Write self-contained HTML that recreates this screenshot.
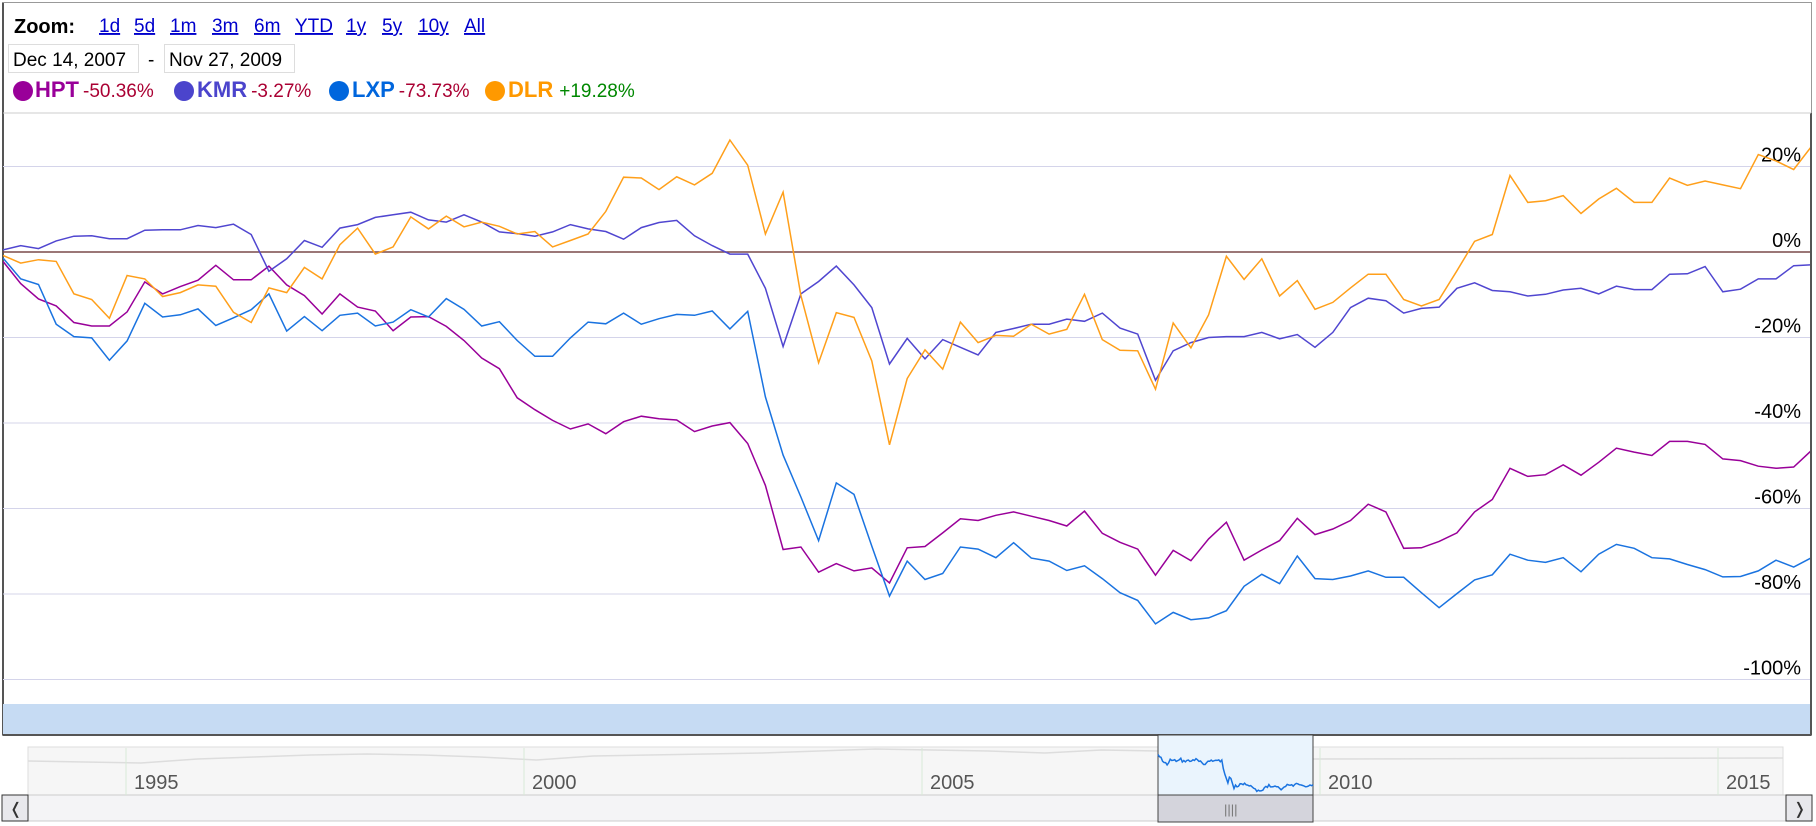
<!DOCTYPE html>
<html><head><meta charset="utf-8"><style>
body{margin:0;width:1816px;height:826px;background:#fff;overflow:hidden;font-family:"Liberation Sans",sans-serif}
svg{position:absolute;left:0;top:0}
</style></head><body>
<svg id="c" width="1816" height="826" xmlns="http://www.w3.org/2000/svg">
<rect x="2.5" y="2.5" width="1809" height="733" fill="#fff" stroke="#999"/>
<line x1="3" y1="3" x2="3" y2="735" stroke="#555" stroke-width="2"/>
<line x1="1811" y1="113" x2="1811" y2="735" stroke="#555" stroke-width="2"/>
<line x1="3" y1="113" x2="1811" y2="113" stroke="#ccc"/>
<text x="14" y="33" font-size="20" font-weight="bold" fill="#000">Zoom:</text>
<g font-size="19" fill="#0000cc" text-decoration="underline">
<text x="99" y="32">1d</text>
<text x="134" y="32">5d</text>
<text x="170" y="32">1m</text>
<text x="212" y="32">3m</text>
<text x="254" y="32">6m</text>
<text x="295" y="32">YTD</text>
<text x="346" y="32">1y</text>
<text x="382" y="32">5y</text>
<text x="418" y="32">10y</text>
<text x="464" y="32">All</text>
</g>
<rect x="8.5" y="44.5" width="130" height="28" fill="#fff" stroke="#ddd"/>
<text x="13" y="66" font-size="19">Dec 14, 2007</text>
<text x="148" y="66" font-size="19">-</text>
<rect x="164.5" y="44.5" width="130" height="28" fill="#fff" stroke="#ddd"/>
<text x="169" y="66" font-size="19">Nov 27, 2009</text>
<g>
<circle cx="23" cy="91" r="10" fill="#990099"/>
<text x="35" y="97"><tspan font-size="22" font-weight="bold" fill="#990099">HPT</tspan><tspan dx="4" font-size="19" fill="#aa0033">-50.36%</tspan></text>
<circle cx="184" cy="91" r="10" fill="#4b44cc"/>
<text x="197" y="97"><tspan font-size="22" font-weight="bold" fill="#4b44cc">KMR</tspan><tspan dx="4" font-size="19" fill="#aa0033">-3.27%</tspan></text>
<circle cx="339" cy="91" r="10" fill="#0066dd"/>
<text x="352" y="97"><tspan font-size="22" font-weight="bold" fill="#0066dd">LXP</tspan><tspan dx="4" font-size="19" fill="#aa0033">-73.73%</tspan></text>
<circle cx="495" cy="91" r="10" fill="#ff9900"/>
<text x="508" y="97"><tspan font-size="22" font-weight="bold" fill="#ff9900">DLR</tspan><tspan dx="6" font-size="19" fill="#008800">+19.28%</tspan></text>
</g>
<g id="grid"></g>
<g id="series" clip-path="url(#pc)"></g>
<defs><clipPath id="pc"><rect x="3" y="113" width="1807" height="591"/></clipPath></defs>
<rect x="3" y="704" width="1807" height="31" fill="#c6dbf3"/>
<line x1="3" y1="735" x2="1811" y2="735" stroke="#555" stroke-width="2"/>
<g id="nav">
<rect x="28" y="747" width="1755" height="48" fill="#f6f6f6" stroke="#ddd"/>
<rect x="2" y="795" width="1810" height="26" fill="#f4f4f6" stroke="#ccc"/>
<rect x="2" y="795" width="26" height="26" fill="#e8e8ec" stroke="#333"/>
<text x="9" y="814" font-size="16" fill="#333">❬</text>
<rect x="1786" y="795" width="26" height="26" fill="#e8e8ec" stroke="#333"/>
<text x="1793" y="814" font-size="16" fill="#333">❭</text>
</g>
<g id="navseries"></g>
</svg>
<script>
const yTicks=[20,0,-20,-40,-60,-80,-100];
const hpt=[-2.2,-7.4,-11.0,-12.6,-16.5,-17.3,-17.3,-14.0,-7.0,-9.8,-8.1,-6.6,-3.1,-6.5,-6.5,-3.3,-7.7,-10.2,-14.5,-9.8,-12.9,-13.8,-18.4,-15.2,-15.1,-17.4,-20.7,-24.8,-27.3,-34.1,-36.9,-39.4,-41.4,-40.2,-42.5,
-39.7,-38.4,-39.0,-39.3,-42.0,-40.7,-39.9,-44.8,-54.6,-69.6,-69.0,-74.9,-72.9,-74.6,-73.9,-77.4,-69.2,-68.9,-65.7,-62.4,-62.8,-61.6,-60.8,-61.8,-62.8,-64.1,-60.6,-65.8,-67.9,-69.5,-75.6,-69.8,-72.2,-67.1,
-63.2,-72.1,-69.7,-67.5,-62.3,-66.1,-64.8,-62.8,-59.0,-60.8,-69.3,-69.2,-67.7,-65.7,-60.8,-57.9,-50.6,-52.5,-52.1,-49.8,-52.2,-49.2,-45.9,-46.8,-47.6,-44.3,-44.3,-45.0,-48.4,-48.8,-50.1,-50.6,-50.3,-46.4];
const kmr=[0.5,1.5,0.8,2.6,3.7,3.8,3.1,3.1,5.1,5.2,5.2,6.2,5.7,6.5,4.1,-4.5,-1.6,2.7,1.1,5.6,6.4,8.1,8.7,9.3,7.5,7.0,8.7,7.0,4.7,4.3,3.7,4.7,6.4,5.4,4.8,
3.0,5.7,6.9,7.4,3.8,1.5,-0.5,-0.5,-8.5,-22.1,-9.8,-6.9,-3.3,-7.7,-13.0,-26.2,-20.2,-25.0,-20.5,-22.3,-24.1,-18.8,-17.9,-16.9,-16.9,-15.7,-16.2,-14.3,-17.8,-19.2,-30.0,-23.1,-21.2,-20.0,
-19.8,-19.8,-18.8,-20.3,-19.3,-22.3,-18.8,-13.0,-10.8,-11.4,-14.3,-13.2,-12.9,-8.5,-7.2,-9.0,-9.3,-10.3,-9.9,-8.9,-8.5,-9.8,-8.0,-8.8,-8.8,-5.2,-5.1,-3.4,-9.3,-8.7,-6.3,-6.3,-3.2,-3.0];
const lxp=[-1.4,-6.3,-7.6,-16.9,-19.8,-20.1,-25.3,-20.8,-12.0,-15.2,-14.7,-13.3,-17.2,-15.4,-13.5,-9.8,-18.5,-15.1,-18.4,-14.8,-14.3,-17.3,-16.4,-13.5,-15.2,-10.9,-13.4,-17.3,-16.3,-20.7,-24.4,-24.4,-20.1,-16.4,-16.8,
-14.3,-16.9,-15.6,-14.6,-14.8,-13.8,-18.0,-13.9,-33.9,-47.5,-57.3,-67.5,-54.0,-56.7,-68.8,-80.5,-72.3,-76.6,-75.2,-69.0,-69.5,-71.5,-68.0,-71.6,-72.3,-74.5,-73.4,-76.4,-79.7,-81.5,-87.0,-84.3,-86.0,-85.6,
-83.9,-78.2,-75.4,-77.6,-71.1,-76.4,-76.6,-75.8,-74.6,-76.1,-76.1,-79.7,-83.2,-79.9,-76.7,-75.5,-70.7,-72.1,-72.6,-71.5,-74.8,-70.7,-68.4,-69.3,-71.5,-71.8,-73.1,-74.3,-76.0,-75.9,-74.6,-72.1,-73.7,-71.5];
const dlr=[-0.8,-2.6,-1.8,-2.2,-9.8,-11.1,-15.5,-5.5,-6.3,-10.4,-9.5,-7.7,-8.0,-14.1,-16.5,-8.4,-9.5,-3.6,-6.3,1.7,5.6,-0.5,1.2,8.2,5.4,8.4,5.9,7.0,6.0,4.2,4.8,1.2,2.7,4.2,9.5,
17.5,17.3,14.6,17.6,15.7,18.4,26.2,20.3,4.2,14.0,-10.2,-25.9,-14.2,-15.3,-25.5,-45.1,-29.6,-22.9,-27.4,-16.4,-21.2,-19.5,-19.7,-16.9,-19.2,-18.1,-9.9,-20.5,-23.0,-23.1,-32.1,-16.6,-22.4,-14.7,
-1.0,-6.4,-1.6,-10.3,-6.7,-13.4,-11.8,-8.4,-5.2,-5.2,-11.1,-12.6,-11.1,-4.4,2.5,4.1,17.9,11.6,12.0,13.2,9.0,12.4,14.9,11.6,11.6,17.3,15.6,16.6,15.7,14.8,22.8,21.3,19.3,24.7];
const navYears=['1995','2000','2005','2010','2015'];
const navYearVals=[1995,2000,2005,2010,2015];
const navHistory=[34,33,32,36,38,40,41,40,38,35,39,40,41,42,44,46,45,44,42,45,44];
const NS='http://www.w3.org/2000/svg';
const svg=document.getElementById('c');
function el(t,a,p){const e=document.createElementNS(NS,t);for(const k in a)e.setAttribute(k,a[k]);(p||svg).appendChild(e);return e;}
const yS=v=>252-v*4.275;
const xS=i=>3+i*17.73;
const grid=document.getElementById('grid');
yTicks.forEach(t=>{
  const l=el('line',{x1:3,x2:1810,y1:yS(t),y2:yS(t),stroke:t===0?'#7a4a4a':'#d4d4ea','stroke-width':t===0?1.5:1},grid);
  
  
  const tx=el('text',{x:1801,y:yS(t)-5,'text-anchor':'end','font-size':20,fill:'#000'},grid);
  tx.textContent=t+'%';
  
  
});
const sg=document.getElementById('series');
[[hpt,'#990099','hpt'],[kmr,'#5046d0','kmr'],[lxp,'#1a73e0','lxp'],[dlr,'#ff9f1a','dlr']].forEach(([d,c,n])=>{
  const p=el('polyline',{points:d.map((v,i)=>xS(i).toFixed(1)+','+yS(v).toFixed(1)).join(' '),fill:'none',stroke:c,'stroke-width':1.5},sg);
  
  
});
const ns=document.getElementById('navseries');
const yearX=y=>126+(y-1995)*79.6;
const nx=i=>28+i*(1130/(navHistory.length-1));
const ny=v=>795-v;
const ap=el('polyline',{points:navHistory.map((v,i)=>nx(i)+','+ny(v)).join(' ')+' 1158,'+ny(44)+' 1313,'+ny(36)+' 1783,'+ny(37),fill:'none',stroke:'#ddd','stroke-width':1.5},ns);


navYearVals.forEach((y,k)=>{
  const l=el('line',{x1:yearX(y),x2:yearX(y),y1:748,y2:795,stroke:'#d8ead8'},ns);
  
  
  const t=el('text',{x:yearX(y)+8,y:789,'font-size':20,fill:'#555'},ns);
  t.textContent=navYears[k];
  
  
});
const win=el('rect',{x:1158,y:735,width:155,height:60,fill:'#eaf4fd',stroke:'#444'},ns);


const wl=el('polyline',{points:lxp.map((v,i)=>(1158+i*155/(lxp.length-1)).toFixed(1)+','+(754-v*0.43).toFixed(1)).join(' '),fill:'none',stroke:'#1a73e0','stroke-width':1.5},ns);


const th=el('rect',{x:1158,y:795,width:155,height:27,fill:'#d4d4dc',stroke:'#444'},ns);


const gr=el('text',{x:1224,y:814,'font-size':13,fill:'#777'},ns);
gr.textContent='||||';


</script>
</body></html>
